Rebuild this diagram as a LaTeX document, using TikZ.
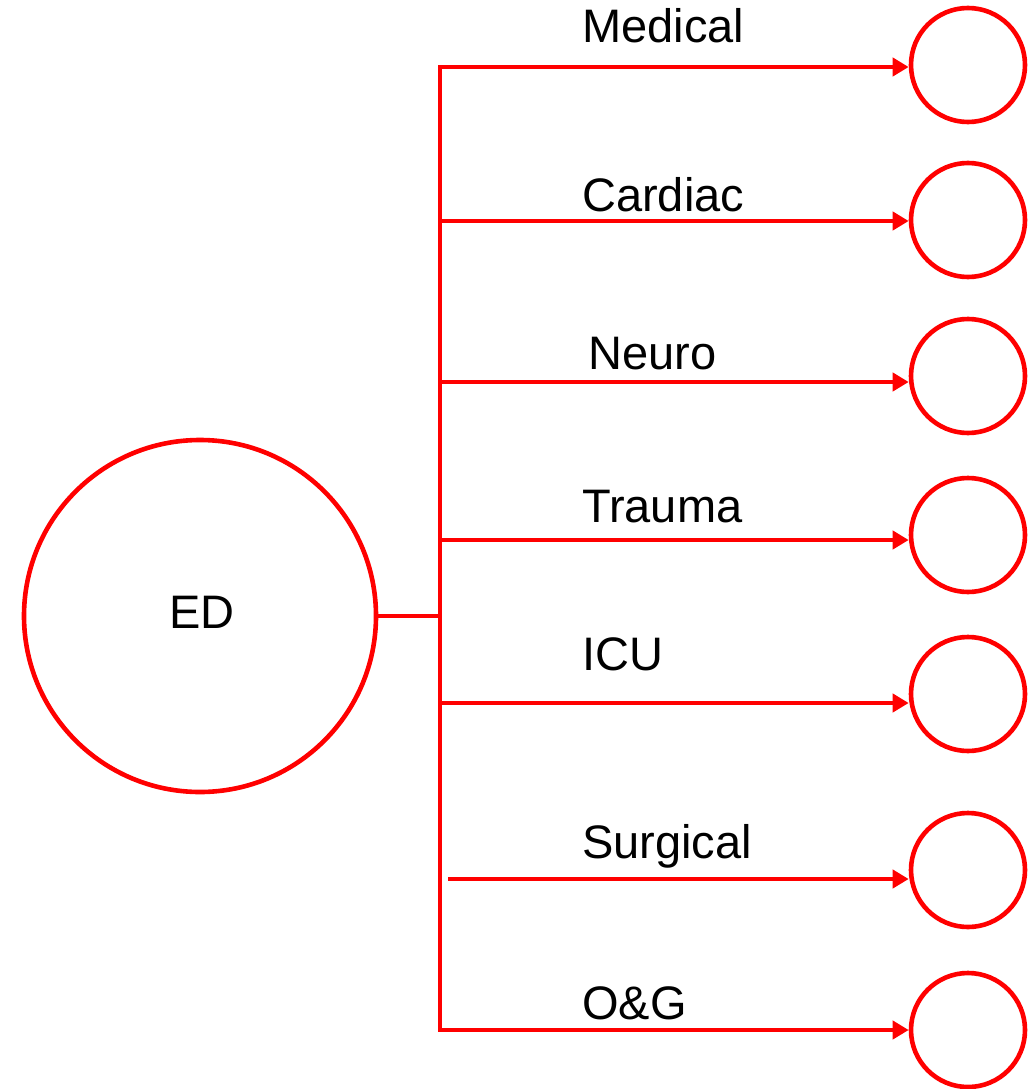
\documentclass[tikz,border=0pt]{standalone}
\usepackage{fontspec}
\setmainfont{Liberation Sans}
\usetikzlibrary{arrows.meta}
\definecolor{lred}{RGB}{255,0,0}
\begin{document}
\begin{tikzpicture}[x=1pt,y=-1pt,
  ln/.style={draw=lred,line width=4.6pt},
  tip/.style={-{Triangle[length=16pt,width=18pt]}},
  big/.style={circle,draw=lred,line width=4.6pt,inner sep=0pt,minimum size=352pt},
  small/.style={circle,draw=lred,line width=4.6pt,inner sep=0pt,minimum size=114pt},
  lbl/.style={anchor=base west,inner sep=0pt,font=\fontsize{47}{56}\selectfont}]
\useasboundingbox (0,0) rectangle (1032,1089);
\node[big] (ed) at (200,616) {};
\node[inner sep=0pt,font=\fontsize{47}{56}\selectfont] (edt) at (202,612) {ED};
\node[small] (c1) at (968,65) {};
\node[small] (c2) at (968,220) {};
\node[small] (c3) at (968,376) {};
\node[small] (c4) at (968,535) {};
\node[small] (c5) at (968,694) {};
\node[small] (c6) at (968,870) {};
\node[small] (c7) at (968,1030) {};
\coordinate (t1) at (440,67);
\coordinate (t7) at (440,1030);
\coordinate (j) at (440,616);
\coordinate (b2) at (442,221);
\coordinate (b3) at (442,382);
\coordinate (b4) at (442,540);
\coordinate (b5) at (442,703);
\coordinate (b6) at (448,879);
\draw[ln] (ed.east) -- (j);
\draw[ln,{Triangle[length=16pt,width=18pt]}-{Triangle[length=16pt,width=18pt]}] (c1.west |- t1) -- (t1) -- (t7) -- (c7.west |- t7);
\draw[ln,tip] (b2) -- (c2.west |- b2);
\draw[ln,tip] (b3) -- (c3.west |- b3);
\draw[ln,tip] (b4) -- (c4.west |- b4);
\draw[ln,tip] (b5) -- (c5.west |- b5);
\draw[ln,tip] (b6) -- (c6.west |- b6);
\node[lbl] (l1) at (582,43) {Medical};
\node[lbl] (l2) at (582,211) {Cardiac};
\node[lbl] (l3) at (588,369) {Neuro};
\node[lbl] (l4) at (582,522) {Trauma};
\node[lbl] (l5) at (582,670) {ICU};
\node[lbl] (l6) at (582,858) {Surgical};
\node[lbl] (l7) at (582,1019) {O\&G};
\end{tikzpicture}
\end{document}
